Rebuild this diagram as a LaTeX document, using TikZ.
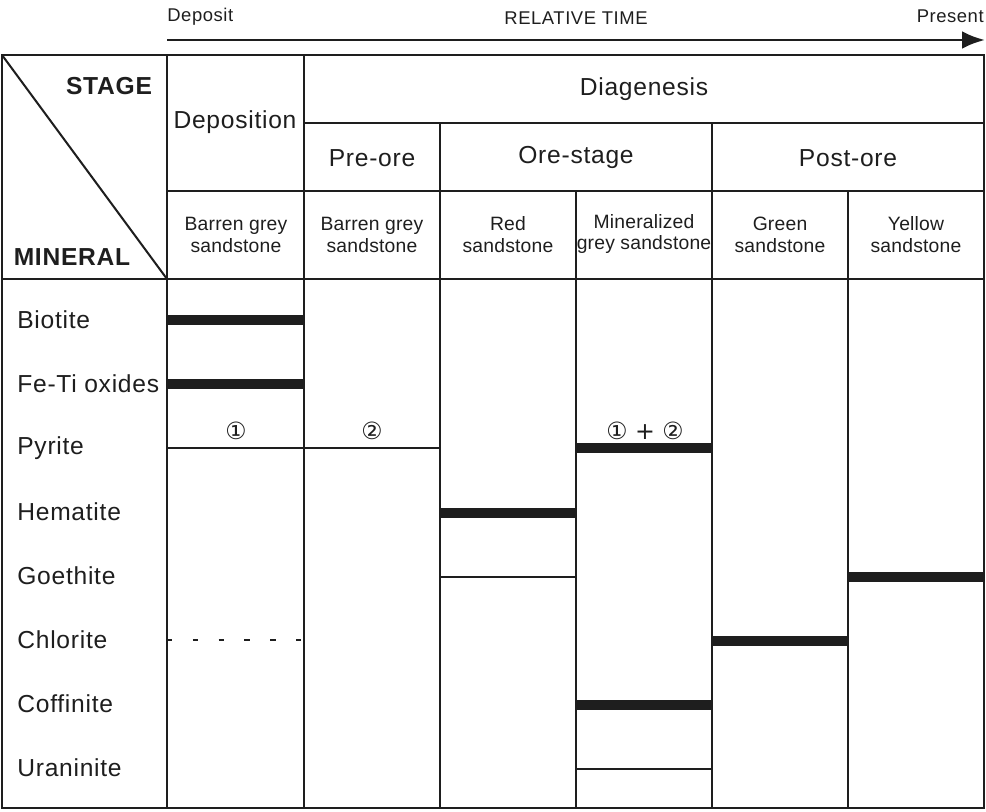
\documentclass[tikz,border=0pt]{standalone}
\usepackage{fontspec}
\setmainfont[LetterSpace=3]{Liberation Sans}
\newfontfamily\circfont{DejaVu Sans}
\usepackage{xcolor}
\usetikzlibrary{arrows.meta}
\definecolor{ink}{HTML}{1E1E1E}
\tikzset{
  gridLine/.style={draw=ink, line width=1.15pt},
  barThick/.style={draw=ink, line width=6pt},
  barThin/.style={draw=ink, line width=1.3pt},
  barDash/.style={draw=ink, line width=1.6pt, dash pattern=on 3pt off 11.7pt},
  timeArrow/.style={draw=ink, line width=1.7pt, -{Latex[length=13pt,width=10pt]}},
  timeText/.style={text=ink, font=\fontsize{10.5}{12}\selectfont, inner sep=0pt},
  stageText/.style={text=ink, font=\fontsize{14}{16}\selectfont},
  cornerText/.style={text=ink, font=\fontsize{14}{16}\selectfont\bfseries},
  rockText/.style={text=ink, font=\fontsize{11}{12.5}\selectfont\addfontfeature{LetterSpace=1}, align=center},
  mineralText/.style={text=ink, font=\fontsize{14}{16}\selectfont, anchor=west, inner sep=0pt},
  circText/.style={text=ink, font=\circfont\fontsize{13.5}{15}\selectfont}
}
\begin{document}
\begin{tikzpicture}[x=0.02cm, y=-0.02cm]
  \useasboundingbox (0,0) rectangle (986,811);

  % relative time arrow
  \coordinate (tStart) at (167,40);
  \coordinate (tEnd) at (985,40);
  \draw[timeArrow] (tStart) -- (tEnd);
  \node[timeText, anchor=west] (deposit) at (167,17) {Deposit};
  \node[timeText] (relTime) at (576,18) {RELATIVE TIME};
  \node[timeText, anchor=east] (present) at (984,16) {Present};

  % table frame and grid
  \draw[gridLine] (2,55) rectangle (984,808);
  \draw[gridLine] (2,55) -- (167,279);
  \draw[gridLine] (167,55) -- (167,808);
  \draw[gridLine] (304,55) -- (304,808);
  \draw[gridLine] (304,123) -- (984,123);
  \draw[gridLine] (167,191) -- (984,191);
  \draw[gridLine] (2,279) -- (984,279);
  \draw[gridLine] (440,123) -- (440,808);
  \draw[gridLine] (712,123) -- (712,808);
  \draw[gridLine] (576,191) -- (576,808);
  \draw[gridLine] (848,191) -- (848,808);

  % header
  \node[cornerText] (stage) at (109,86) {STAGE};
  \node[cornerText] (mineral) at (72,257) {MINERAL};
  \node[stageText] (deposition) at (235,122) {Deposition};
  \node[stageText] (diagenesis) at (644,89) {Diagenesis};
  \node[stageText] (preOre) at (372,158) {Pre-ore};
  \node[stageText] (oreStage) at (576,157) {Ore-stage};
  \node[stageText] (postOre) at (848,158) {Post-ore};

  \node[rockText] (rockBarrenA) at (236,235) {Barren grey\\sandstone};
  \node[rockText] (rockBarrenB) at (372,235) {Barren grey\\sandstone};
  \node[rockText] (rockRed) at (508,235) {Red\\sandstone};
  \node[rockText] (rockMin) at (644,234) {Mineralized\\grey sandstone};
  \node[rockText] (rockGreen) at (780,235) {Green\\sandstone};
  \node[rockText] (rockYellow) at (916,235) {Yellow\\sandstone};

  % minerals
  \node[mineralText] (biotite) at (17,320) {Biotite};
  \node[mineralText] (feTi) at (17,384) {Fe-Ti oxides};
  \node[mineralText] (pyrite) at (17,448) {Pyrite};
  \node[mineralText] (hematite) at (17,512) {Hematite};
  \node[mineralText] (goethite) at (17,576) {Goethite};
  \node[mineralText] (chlorite) at (17,640) {Chlorite};
  \node[mineralText] (coffinite) at (17,704) {Coffinite};
  \node[mineralText] (uraninite) at (17,768) {Uraninite};

  % occurrence bars
  \draw[barThick] (167,320) -- (304,320);
  \draw[barThick] (167,384) -- (304,384);
  \draw[barThin] (167,448) -- (304,448);
  \draw[barThin] (304,448) -- (440,448);
  \draw[barThick] (576,448) -- (712,448);
  \draw[barThick] (440,513) -- (576,513);
  \draw[barThin] (440,577) -- (576,577);
  \draw[barThick] (848,577) -- (984,577);
  \draw[barDash] (167,640) -- (304,640);
  \draw[barThick] (712,641) -- (848,641);
  \draw[barThick] (576,705) -- (712,705);
  \draw[barThin] (576,769) -- (712,769);

  \node[circText] (pyA) at (236,431) {①};
  \node[circText] (pyB) at (372,431) {②};
  \node[circText] (pyAB) at (645,431) {① + ②};
\end{tikzpicture}
\end{document}
